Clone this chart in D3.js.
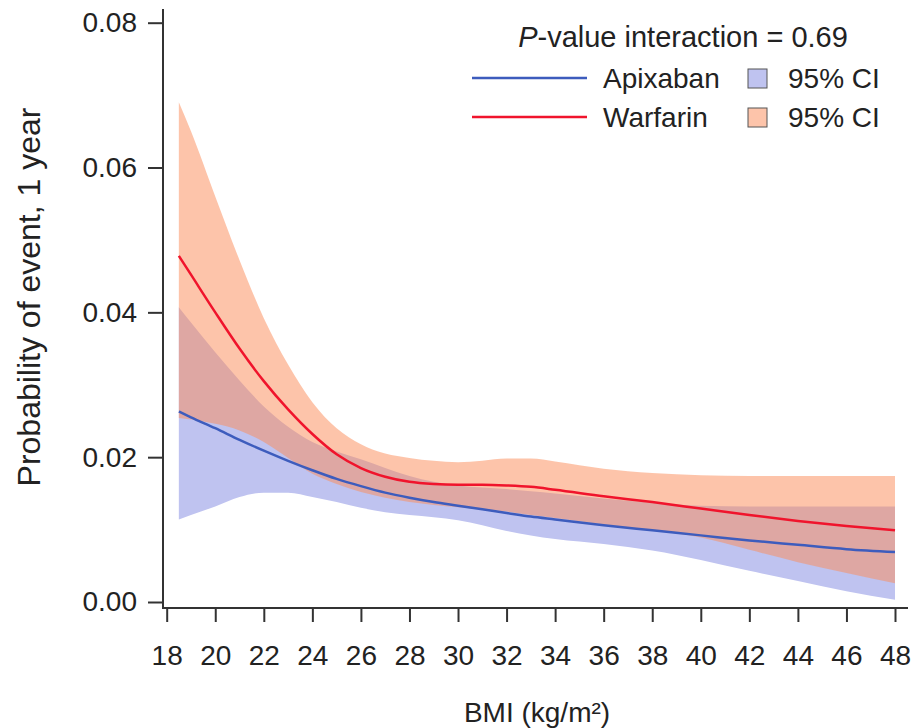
<!DOCTYPE html>
<html>
<head>
<meta charset="utf-8">
<script src="https://cdn.jsdelivr.net/npm/d3@7"></script>
<style>
  body { margin: 0; background: #fff; }
  text { font-family: "Liberation Sans", Arial, sans-serif; fill: #222; }
</style>
</head>
<body>
<div id="container"></div>
<script>
// BMI grid
const bmi = [18.5, 19, 20, 21, 22, 23, 24, 25, 26, 27, 28, 29, 30, 31, 32, 33, 34, 36, 38, 40, 42, 44, 46, 48];

// Apixaban estimate + 95% CI
const apixaban = [0.0263, 0.0255, 0.0240, 0.0224, 0.0209, 0.0195, 0.0182, 0.0170, 0.0160, 0.0151, 0.0144, 0.0138, 0.0133, 0.0128, 0.0123, 0.0118, 0.0114, 0.0106, 0.0099, 0.0092, 0.0085, 0.0079, 0.0073, 0.0069];
const apixabanUpper = [0.0407, 0.0386, 0.0345, 0.0306, 0.0270, 0.0242, 0.0221, 0.0208, 0.0197, 0.0185, 0.0174, 0.0166, 0.0161, 0.0158, 0.0156, 0.0153, 0.0150, 0.0143, 0.0137, 0.0133, 0.0132, 0.0132, 0.0132, 0.0132];
const apixabanLower = [0.0114, 0.0120, 0.0132, 0.0145, 0.0151, 0.0151, 0.0145, 0.0138, 0.0130, 0.0124, 0.0120, 0.0117, 0.0113, 0.0106, 0.0098, 0.0092, 0.0087, 0.0080, 0.0071, 0.0058, 0.0043, 0.0029, 0.0015, 0.0003];

// Warfarin estimate + 95% CI
const warfarin = [0.0478, 0.0452, 0.0400, 0.0350, 0.0305, 0.0266, 0.0232, 0.0204, 0.0185, 0.0173, 0.0166, 0.0163, 0.0162, 0.0162, 0.0161, 0.0159, 0.0155, 0.0146, 0.0138, 0.0129, 0.0120, 0.0112, 0.0105, 0.0099];
const warfarinUpper = [0.0690, 0.0650, 0.0560, 0.0472, 0.0392, 0.0328, 0.0276, 0.0240, 0.0218, 0.0205, 0.0199, 0.0195, 0.0193, 0.0195, 0.0198, 0.0198, 0.0194, 0.0184, 0.0178, 0.0175, 0.0174, 0.0174, 0.0174, 0.0174];
const warfarinLower = [0.0254, 0.0252, 0.0246, 0.0237, 0.0221, 0.0199, 0.0177, 0.0163, 0.0152, 0.0144, 0.0138, 0.0134, 0.0131, 0.0128, 0.0125, 0.0120, 0.0116, 0.0107, 0.0099, 0.0089, 0.0072, 0.0055, 0.0040, 0.0026];

const xTicks = d3.range(18, 49, 2);
const yTicks = [0, 0.02, 0.04, 0.06, 0.08];

const width = 914;
const height = 728;

const svg = d3.select("#container")
  .append("svg")
  .attr("width", width)
  .attr("height", height);

const x = d3.scaleLinear().domain([18, 48]).range([166.7, 895]);
const y = d3.scaleLinear().domain([0, 0.08]).range([602, 22.7]);

const axisX0 = 163;   // y axis line position
const axisY0 = 608;   // x axis line position

const rows = (mid, lo, hi) => bmi.map((b, i) => ({ b, mid: mid[i], lo: lo[i], hi: hi[i] }));
const apx = rows(apixaban, apixabanLower, apixabanUpper);
const wfn = rows(warfarin, warfarinLower, warfarinUpper);

const band = d3.area()
  .x(d => x(d.b))
  .y0(d => y(d.lo))
  .y1(d => y(d.hi))
  .curve(d3.curveMonotoneX);

const line = d3.line()
  .x(d => x(d.b))
  .y(d => y(d.mid))
  .curve(d3.curveMonotoneX);

// bands: apixaban first, warfarin translucent on top
svg.append("path").datum(apx).attr("d", band).attr("fill", "#bfc3f0");
svg.append("path").datum(wfn).attr("d", band).attr("fill", "#fb8e5c").attr("fill-opacity", 0.52);

svg.append("path").datum(apx).attr("d", line)
  .attr("fill", "none").attr("stroke", "#3d5cbd").attr("stroke-width", 2.5);
svg.append("path").datum(wfn).attr("d", line)
  .attr("fill", "none").attr("stroke", "#f0142c").attr("stroke-width", 2.5);

// axes
const yAxis = svg.append("g")
  .attr("transform", `translate(${axisX0},0)`)
  .call(d3.axisLeft(y).tickValues(yTicks).tickFormat(d3.format(".2f")).tickSize(15).tickPadding(11));
yAxis.select(".domain").remove();

const xAxis = svg.append("g")
  .attr("transform", `translate(0,${axisY0})`)
  .call(d3.axisBottom(x).tickValues(xTicks).tickFormat(d3.format("d")).tickSize(14).tickPadding(23));
xAxis.select(".domain").remove();

svg.selectAll(".tick line").attr("stroke", "#333").attr("stroke-width", 2);
svg.selectAll(".tick text").attr("font-size", 28).attr("fill", "#222")
  .style("font-family", "'Liberation Sans', Arial, sans-serif");

svg.append("line").attr("x1", axisX0).attr("x2", axisX0).attr("y1", 9).attr("y2", axisY0)
  .attr("stroke", "#333").attr("stroke-width", 2);
svg.append("line").attr("x1", axisX0 - 1).attr("x2", 908).attr("y1", axisY0).attr("y2", axisY0)
  .attr("stroke", "#333").attr("stroke-width", 2);

// axis titles
svg.append("text")
  .attr("transform", "translate(40,297) rotate(-90)")
  .attr("text-anchor", "middle")
  .attr("font-size", 32)
  .text("Probability of event, 1 year");

svg.append("text")
  .attr("x", 537).attr("y", 722)
  .attr("text-anchor", "middle")
  .attr("font-size", 28)
  .text("BMI (kg/m²)");

// legend
const title = svg.append("text")
  .attr("x", 683).attr("y", 47)
  .attr("text-anchor", "middle")
  .attr("font-size", 29);
title.append("tspan").attr("font-style", "italic").text("P");
title.append("tspan").text("-value interaction = 0.69");

const legendItems = [
  { name: "Apixaban", stroke: "#3d5cbd", fill: "#bfc3f0", opacity: 1, ly: 78 },
  { name: "Warfarin", stroke: "#f0142c", fill: "#fb8e5c", opacity: 0.52, ly: 117 }
];

legendItems.forEach(item => {
  svg.append("line")
    .attr("x1", 472).attr("x2", 587)
    .attr("y1", item.ly).attr("y2", item.ly)
    .attr("stroke", item.stroke).attr("stroke-width", 2.5);
  svg.append("text")
    .attr("x", 603).attr("y", item.ly + 10)
    .attr("font-size", 28)
    .text(item.name);
  svg.append("rect")
    .attr("x", 748).attr("y", item.ly - 9)
    .attr("width", 19).attr("height", 19)
    .attr("fill", "#fff");
  svg.append("rect")
    .attr("x", 748).attr("y", item.ly - 9)
    .attr("width", 19).attr("height", 19)
    .attr("fill", item.fill).attr("fill-opacity", item.opacity)
    .attr("stroke", "#555").attr("stroke-width", 1);
  svg.append("text")
    .attr("x", 788).attr("y", item.ly + 10)
    .attr("font-size", 28)
    .text("95% CI");
});
</script>
</body>
</html>
